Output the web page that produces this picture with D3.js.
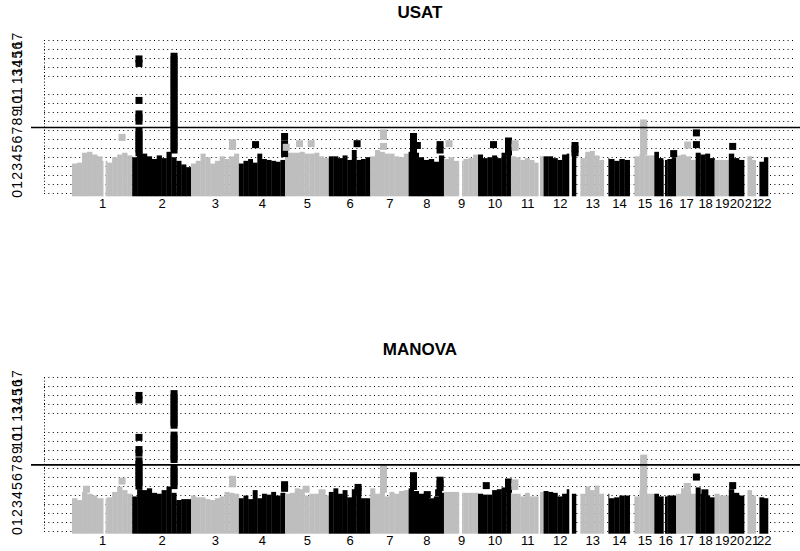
<!DOCTYPE html>
<html>
<head>
<meta charset="utf-8">
<script src="https://cdn.jsdelivr.net/npm/d3@7"></script>
<style>
  body { margin: 0; background: #fff; }
  svg { display: block; font-family: "Liberation Sans", Arial, sans-serif; }
</style>
</head>
<body>
<script>
// chromosomes and their lengths (Mb)
const chrNames = ['1','2','3','4','5','6','7','8','9','10','11','12','13','14','15','16','17','18','19','20','21','22'];
const chrLengths = [249,243,198,191,181,171,159,146,141,136,135,134,115,107,102,90,81,78,59,63,48,51];

// y ticks (no 12) and genome-wide threshold
const yTicks = [0,1,2,3,4,5,6,7,8,9,10,11,13,14,15,16,17];
const threshold = 7.3;

// stretches without markers: [chr, from Mb, to Mb]
const gaps = [[1,129,139],[9,62,75],[11,113,120],[12,105,117],[13,0,19],[14,0,19],
              [15,0,20],[16,37,44],[21,0,14],[22,0,16]];

// USAT: upper envelope of -log10(p), evenly spaced bins along each chromosome
const usatEnvelope = [
  [3.3,3.4,4.5,4.6,4.3,4.1,3.6,3.4,4.0,4.3,4.5,4.2],
  [4.0,4.6,4.4,4.1,3.8,4.2,3.9,4.6,4.0,3.6,3.2,2.9],
  [3.3,3.6,4.4,4.0,3.3,3.6,4.1,3.8,4.1,4.4],
  [3.3,3.6,3.8,3.4,4.4,3.8,3.7,3.6,3.5,3.7],
  [4.5,4.5,4.5,4.6,4.4,4.4,4.5,4.1,3.9],
  [4.1,4.1,3.9,4.2,3.7,4.8,3.7,3.8,4.0],
  [4.1,4.8,4.6,4.4,4.4,4.1,4.0,4.4],
  [4.6,4.5,4.0,3.7,3.8,3.5,4.2],
  [3.8,4.0,3.6,3.6,3.8,3.9,4.3],
  [4.3,3.9,4.0,4.2,3.9,4.5,4.6],
  [4.1,4.0,3.7,3.9,3.7,3.4,4.1],
  [4.1,4.1,3.9,3.7,4.3,4.4,4.5],
  [3.9,3.9,4.6,4.7,4.2,3.7],
  [3.9,3.8,3.6,3.8,3.7],
  [4.1,4.1,4.4,4.2,4.2],
  [4.6,3.9,3.7,3.8,4.0],
  [4.2,4.3,4.1,3.7],
  [4.5,4.3,4.4,3.9],
  [3.7,3.7,3.7],
  [4.4,3.9,3.7],
  [4.1,4.1,3.7],
  [3.5,3.5,4.0]
];

// USAT: single markers above the envelope: [chr, Mb, values]
const usatHits = [
  [1, 207, [6.2]],
  [2, 28, [14.9,14.4,10.3,8.8,8.4,8.0,6.9,6.5,6.1,5.7,5.3,4.9,4.5]],
  [2, 173, [15.2,14.8,14.4,14.0,13.6,13.2,12.8,12.4,12.0,11.6,11.2,10.8,10.4,10.0,9.6,9.2,8.8,8.4,8.0,7.6,7.2,6.8,6.4,6.0,5.6,5.2,4.8]],
  [3, 172, [5.6,5.2]],
  [4, 69, [5.4]],
  [4, 189, [6.3,5.5,4.8,4.4]],
  [5, 5, [5.1]],
  [5, 60, [5.5]],
  [5, 108, [5.5]],
  [6, 117, [5.5]],
  [7, 55, [6.7,6.3,5.2]],
  [8, 20, [6.3,5.8,5.4,5.0,4.6]],
  [8, 36, [5.3]],
  [8, 130, [5.4,4.8]],
  [9, 21, [5.5]],
  [10, 64, [5.4]],
  [10, 126, [5.8,5.4,5.0,4.6]],
  [11, 17, [5.5,5.1]],
  [12, 130, [5.3,4.9,4.5]],
  [15, 58, [7.8,7.4,7.0,6.6,6.2,5.8,5.4,5.0,4.6]],
  [16, 80, [4.4]],
  [17, 48, [5.35]],
  [18, 3, [6.7,5.4]],
  [20, 16, [5.2]]
];

// MANOVA
const manovaEnvelope = [
  [3.6,3.4,4.3,4.1,3.9,3.6,3.6,3.7,4.3,4.9,4.5,4.1],
  [3.8,4.6,4.5,4.7,4.2,4.1,4.5,4.9,4.2,3.4,3.5,3.5],
  [3.9,3.7,3.7,3.5,3.4,3.6,3.8,4.3,4.2,4.1],
  [3.6,3.9,3.5,4.5,3.6,4.1,4.0,4.3,3.9,4.2],
  [4.1,4.2,4.7,4.6,3.9,4.1,4.1,4.0,3.9],
  [4.3,4.7,4.1,4.5,3.7,4.6,4.1,3.6,3.6],
  [4.7,4.1,4.3,3.8,4.3,4.1,4.4,4.5],
  [4.7,4.4,4.1,3.8,3.6,3.8,4.2],
  [4.3,4.3,4.3,4.2,4.2,4.2,4.2],
  [4.1,4.0,4.0,4.5,4.6,4.8,4.7],
  [4.1,4.1,3.8,4.2,3.8,3.8,4.3],
  [4.4,4.3,4.2,3.8,4.1,4.6,4.1],
  [4.1,4.1,4.9,4.5,5.0,4.1],
  [4.1,3.6,3.7,3.9,3.9],
  [3.8,3.8,4.5,4.1,4.1],
  [4.1,3.8,3.8,3.9,3.9],
  [4.1,4.7,4.5,4.1],
  [4.8,4.1,3.9,3.7],
  [4.1,3.9,3.9],
  [4.6,4.2,3.9],
  [4.5,4.5,3.9],
  [3.7,3.7,3.6]
];

const manovaHits = [
  [1, 60, [4.6]],
  [1, 207, [5.5]],
  [2, 28, [15.0,14.5,10.35,9.0,8.6,7.75,7.35,6.95,6.55,6.15,5.75,5.35,4.95]],
  [2, 173, [15.2,14.8,14.4,14.0,13.6,13.2,12.8,12.4,12.0,11.7,10.6,10.2,9.8,9.4,9.0,8.6,8.2,7.9,7.0,6.6,6.2,5.8,5.4,5.0]],
  [3, 172, [5.7,5.2]],
  [4, 189, [5.1,4.7]],
  [5, 87, [4.6]],
  [5, 153, [4.2]],
  [6, 121, [4.8,4.4]],
  [7, 55, [7.0,6.6,6.2,5.8,5.4,5.0,4.6]],
  [8, 20, [6.1,5.7,5.3,4.9]],
  [8, 77, [4.0]],
  [8, 124, [4.2]],
  [8, 130, [5.6,5.2,4.8]],
  [10, 34, [5.0]],
  [10, 126, [5.4,5.0,4.6]],
  [11, 16, [5.3,4.9]],
  [15, 58, [8.05,7.65,7.25,6.85,6.45,6.05,5.65,5.25,4.85,4.45]],
  [17, 46, [4.9]],
  [18, 3, [5.95]],
  [18, 38, [4.2]],
  [20, 16, [5.0]]
];

const width = 800, height = 551;
const colors = ['#bebebe', '#000000'];

const svg = d3.select('body').append('svg')
  .attr('width', width)
  .attr('height', height);

// cumulative chromosome starts
const chrStart = [];
chrLengths.reduce((acc, len, i) => { chrStart[i] = acc; return acc + len; }, 0);
const total = d3.sum(chrLengths);

// data range maps to 72..768, plot box (R's 4% extension) 44..796
const x = d3.scaleLinear().domain([0, total]).range([72, 768]);

function firstPos(i) {
  const g = gaps.find(g => g[0] === i + 1 && g[1] === 0);
  return g ? g[2] : 0;
}

// split a bin [a,b] around the gaps of one chromosome
function pieces(chr, a, b) {
  let segs = [[a, b]];
  gaps.filter(g => g[0] === chr).forEach(g => {
    const out = [];
    segs.forEach(([s, e]) => {
      if (g[2] <= s || g[1] >= e) { out.push([s, e]); return; }
      if (g[1] > s) out.push([s, g[1]]);
      if (g[2] < e) out.push([g[2], e]);
    });
    segs = out;
  });
  return segs;
}

function drawPanel(title, envelope, hits, off) {
  const y = d3.scaleLinear().domain([0, 17]).range([193.3 + off, 40 + off]);
  const g = svg.append('g');

  // title
  g.append('text')
    .attr('x', 420).attr('y', 18 + off)
    .attr('text-anchor', 'middle')
    .style('font-weight', 'bold')
    .style('font-size', '17px')
    .text(title);

  // dotted grid
  g.append('g').selectAll('line').data(yTicks).join('line')
    .attr('x1', 44).attr('x2', 796)
    .attr('y1', d => Math.round(y(d)) + 0.5)
    .attr('y2', d => Math.round(y(d)) + 0.5)
    .attr('stroke', '#000')
    .attr('stroke-width', 1)
    .attr('stroke-dasharray', '1,3.4');
  g.append('line')
    .attr('x1', 44.5).attr('x2', 44.5)
    .attr('y1', y(17)).attr('y2', y(0))
    .attr('stroke', '#000')
    .attr('stroke-dasharray', '1,2.2');

  // envelope bins
  const bins = [];
  envelope.forEach((vals, i) => {
    const len = chrLengths[i], n = vals.length;
    vals.forEach((v, j) => {
      const a = len * j / n, b = len * (j + 1) / n;
      pieces(i + 1, a, b).forEach(([s, e]) => {
        bins.push({ chr: i, s: chrStart[i] + s, e: chrStart[i] + e, v: v });
      });
    });
  });
  g.append('g').selectAll('rect').data(bins).join('rect')
    .attr('x', d => x(d.s))
    .attr('width', d => x(d.e) - x(d.s) + 0.3)
    .attr('y', d => y(d.v))
    .attr('height', d => y(0) + 3 - y(d.v))
    .attr('fill', d => colors[d.chr % 2]);

  // single markers
  const pts = [];
  hits.forEach(([chr, pos, vals]) => {
    vals.forEach(v => pts.push({ chr: chr - 1, x: chrStart[chr - 1] + pos, v: v }));
  });
  g.append('g').selectAll('rect').data(pts).join('rect')
    .attr('x', d => x(d.x) - 3.5)
    .attr('y', d => y(d.v) - 3.5)
    .attr('width', 7).attr('height', 7)
    .attr('fill', d => colors[d.chr % 2]);

  // threshold line
  g.append('line')
    .attr('x1', 31).attr('x2', 800)
    .attr('y1', y(threshold)).attr('y2', y(threshold))
    .attr('stroke', '#000')
    .attr('stroke-width', 1.6);

  // y axis, labels parallel to the axis
  const yAxis = d3.axisLeft(y).tickValues(yTicks).tickSize(0).tickFormat(d3.format('d'));
  const ya = g.append('g').attr('transform', 'translate(44,0)').call(yAxis);
  ya.select('.domain').remove();
  ya.selectAll('text')
    .attr('transform', 'rotate(-90)')
    .attr('x', 0).attr('y', -22).attr('dy', 0)
    .attr('text-anchor', 'middle')
    .attr('fill', '#000')
    .style('font-size', '14px')
    .style('font-family', '"Liberation Sans", Arial, sans-serif');

  // x axis, chromosome names at the middle of their data
  const mids = chrLengths.map((len, i) => chrStart[i] + (firstPos(i) + len) / 2);
  const xAxis = d3.axisBottom(x).tickValues(mids).tickSize(0)
    .tickFormat((d, i) => chrNames[i]);
  const xa = g.append('g').attr('transform', `translate(0,${198 + off})`).call(xAxis);
  xa.select('.domain').remove();
  xa.selectAll('text')
    .attr('y', 10).attr('dy', 0)
    .attr('fill', '#000')
    .style('font-size', '13px')
    .style('font-family', '"Liberation Sans", Arial, sans-serif');
}

drawPanel('USAT', usatEnvelope, usatHits, 0);
drawPanel('MANOVA', manovaEnvelope, manovaHits, 337.4);
</script>
</body>
</html>
